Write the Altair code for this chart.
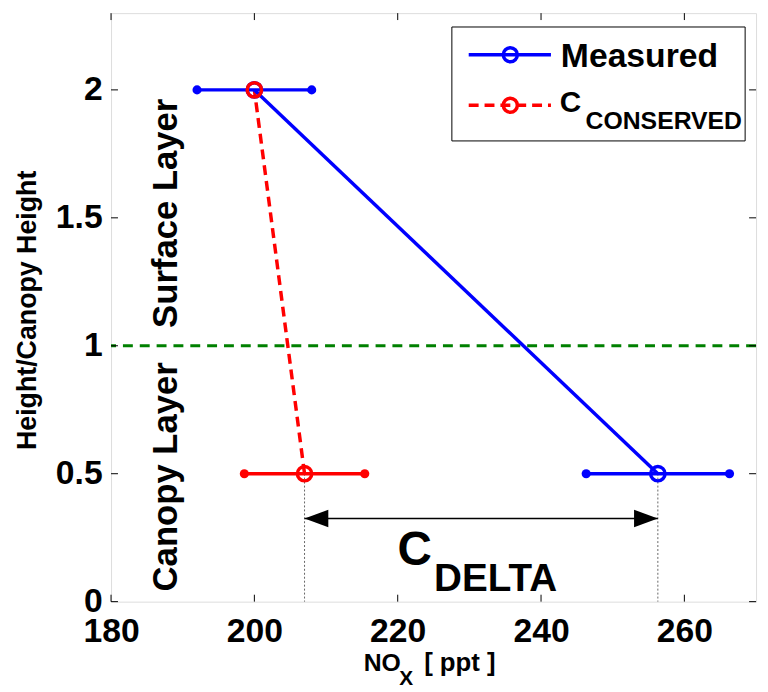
import altair as alt
import pandas as pd

FONT = "Liberation Sans"
W, H = 651, 594

# ---- data ----
series = ["Measured", "Measured", "Conserved", "Conserved"]
nox = [200.0, 256.3, 200.0, 207.0]
height = [2.0, 0.5, 2.0, 0.5]
nox_err = [8.0, 10.0, 0.0, 8.4]

x_ticks = [180, 200, 220, 240, 260]
y_ticks = [0, 0.5, 1, 1.5, 2]
boundary = [1.0]
arrow_y = [0.325]

legend_labels = ["Measured", "C"]
legend_sub = ["CONSERVED"]
layer_labels = ["Surface Layer", "Canopy Layer"]
delta_label = ["C", "DELTA"]
x_title = ["NO", "X", "[ ppt ]"]
y_title = ["Height/Canopy Height"]

BLUE = "#0000ff"
RED = "#ff0000"
GREEN = "#008000"

df = pd.DataFrame({"series": series, "x": nox, "y": height, "err": nox_err})
df["lo"] = df["x"] - df["err"]
df["hi"] = df["x"] + df["err"]
meas = df[df.series == "Measured"]
cons = df[df.series == "Conserved"]
cons_bar = cons[cons.err > 0]
low = df[df.y == 0.5]
arrow = pd.DataFrame({
    "x1": [float(cons[cons.y == 0.5].x.iloc[0])],
    "x2": [float(meas[meas.y == 0.5].x.iloc[0])],
    "y": arrow_y,
})
one = pd.DataFrame({"k": [0]})

xs = alt.Scale(domain=[180, 270], nice=False, zero=False)
ys = alt.Scale(domain=[0, 2.3], nice=False, zero=False)
xaxis = alt.Axis(values=x_ticks, title=None, labelFontSize=34, labelFont=FONT,
                 labelFontWeight="bold", labelColor="black", labelPadding=13,
                 labelFlush=False, labelOverlap=False, ticks=False, domain=False, grid=False)
yaxis = alt.Axis(values=y_ticks, title=None, labelFontSize=34, labelFont=FONT,
                 labelFontWeight="bold", labelColor="black", labelPadding=9, format="~g",
                 labelFlush=False, labelOverlap=False, ticks=False, domain=False, grid=False)


def X(f):
    return alt.X(f, type="quantitative", scale=xs, axis=xaxis)


def Y(f):
    return alt.Y(f, type="quantitative", scale=ys, axis=yaxis)


layers = []

# layer boundary
layers.append(alt.Chart(pd.DataFrame({"y": boundary})).mark_rule(
    color=GREEN, strokeWidth=3, strokeDash=[10, 7]).encode(y=Y("y")))

# dotted guides
layers.append(alt.Chart(low).mark_rule(color="#666666", strokeWidth=1, strokeDash=[2, 2]).encode(
    x=X("x"), y=Y("y"), y2=alt.datum(0)))

# arrow
layers.append(alt.Chart(arrow).mark_rule(color="black", strokeWidth=1.5).encode(
    x=X("x1"), x2="x2", y=Y("y")))
layers.append(alt.Chart(arrow).mark_point(shape="M 0 0 L 1 -0.37 L 1 0.37 Z", filled=True,
                                          color="black", opacity=1, size=2304).encode(
    x=X("x1"), y=Y("y")))
layers.append(alt.Chart(arrow).mark_point(shape="M 0 0 L -1 -0.37 L -1 0.37 Z", filled=True,
                                          color="black", opacity=1, size=2304).encode(
    x=X("x2"), y=Y("y")))

# conserved error bar
layers.append(alt.Chart(cons_bar).mark_rule(color=RED, strokeWidth=3.5).encode(
    x=X("lo"), x2="hi", y=Y("y")))
for f in ["lo", "hi"]:
    layers.append(alt.Chart(cons_bar).mark_point(shape="circle", filled=True, color=RED,
                                                 opacity=1, size=85).encode(x=X(f), y=Y("y")))

# conserved dashed line
layers.append(alt.Chart(cons).mark_line(color=RED, strokeWidth=3.5, strokeDash=[10, 6]).encode(
    x=X("x"), y=Y("y"), order="y:Q"))

# measured line
layers.append(alt.Chart(meas).mark_line(color=BLUE, strokeWidth=3.5).encode(
    x=X("x"), y=Y("y"), order="y:Q"))

# measured error bars
layers.append(alt.Chart(meas).mark_rule(color=BLUE, strokeWidth=3.5).encode(
    x=X("lo"), x2="hi", y=Y("y")))
for f in ["lo", "hi"]:
    layers.append(alt.Chart(meas).mark_point(shape="circle", filled=True, color=BLUE,
                                             opacity=1, size=85).encode(x=X(f), y=Y("y")))

# open circle markers
layers.append(alt.Chart(meas).mark_point(shape="circle", filled=False, color=BLUE, opacity=1,
                                         size=210, strokeWidth=3.5).encode(x=X("x"), y=Y("y")))
layers.append(alt.Chart(cons).mark_point(shape="circle", filled=False, color=RED, opacity=1,
                                         size=210, strokeWidth=3.5).encode(x=X("x"), y=Y("y")))

# inward ticks
xt = pd.DataFrame({"t": x_ticks})
yt = pd.DataFrame({"t": y_ticks})
layers.append(alt.Chart(xt).mark_rule(color="black", strokeWidth=1).encode(
    x=X("t"), y=alt.value(H), y2=alt.value(H - 7)))
layers.append(alt.Chart(xt).mark_rule(color="black", strokeWidth=1).encode(
    x=X("t"), y=alt.value(0), y2=alt.value(7)))
layers.append(alt.Chart(yt).mark_rule(color="black", strokeWidth=1).encode(
    y=Y("t"), x=alt.value(0), x2=alt.value(7)))
layers.append(alt.Chart(yt).mark_rule(color="black", strokeWidth=1).encode(
    y=Y("t"), x=alt.value(W), x2=alt.value(W - 7)))

# legend
layers.append(alt.Chart(one).mark_rect(fill="white", stroke="black", strokeWidth=1).encode(
    x=alt.value(344), x2=alt.value(640), y=alt.value(14), y2=alt.value(129)))
layers.append(alt.Chart(one).mark_rule(color=BLUE, strokeWidth=3.5).encode(
    x=alt.value(361), x2=alt.value(444), y=alt.value(42)))
layers.append(alt.Chart(one).mark_point(shape="circle", filled=False, color=BLUE, opacity=1,
                                        size=200, strokeWidth=3.5).encode(
    x=alt.value(403), y=alt.value(42)))
layers.append(alt.Chart(one).mark_rule(color=RED, strokeWidth=3.5, strokeDash=[10, 6]).encode(
    x=alt.value(361), x2=alt.value(444), y=alt.value(93)))
layers.append(alt.Chart(one).mark_point(shape="circle", filled=False, color=RED, opacity=1,
                                        size=200, strokeWidth=3.5).encode(
    x=alt.value(403), y=alt.value(93)))


def txt(text, x, y, size, angle=0, align="left", baseline="alphabetic"):
    kw = dict(text=text, font=FONT, fontWeight="bold", fontSize=size, color="black",
              align=align, baseline=baseline)
    if angle:
        kw["angle"] = angle
    return alt.Chart(one).mark_text(**kw).encode(x=alt.value(x), y=alt.value(y))


layers.append(txt(legend_labels[0], 454, 54, 34))
layers.append(txt(legend_labels[1], 453, 100, 30))
layers.append(txt(legend_sub[0], 479, 117, 25))

# layer labels
layers.append(txt(layer_labels[0], 67, 202, 35, angle=270, align="center"))
layers.append(txt(layer_labels[1], 67, 468, 35, angle=270, align="center"))

# C_DELTA
layers.append(txt(delta_label[0], 289, 557, 48))
layers.append(txt(delta_label[1], 326, 583, 39))

# axis titles
layers.append(txt(x_title[0], 255, 664, 25))
layers.append(txt(x_title[1], 291, 678, 21))
layers.append(txt(x_title[2], 316, 664, 26))
layers.append(txt(y_title[0], -76, 300, 27, angle=270, align="center"))

chart = alt.layer(*layers).properties(
    width=W, height=H,
    autosize=alt.AutoSizeParams(type="none"),
    padding={"left": 104, "top": 2, "right": 4, "bottom": 86},
).configure_view(stroke="black", strokeWidth=1.5).configure(background="white")

chart.save("out.html", embed_options={"renderer": "svg", "actions": False})
